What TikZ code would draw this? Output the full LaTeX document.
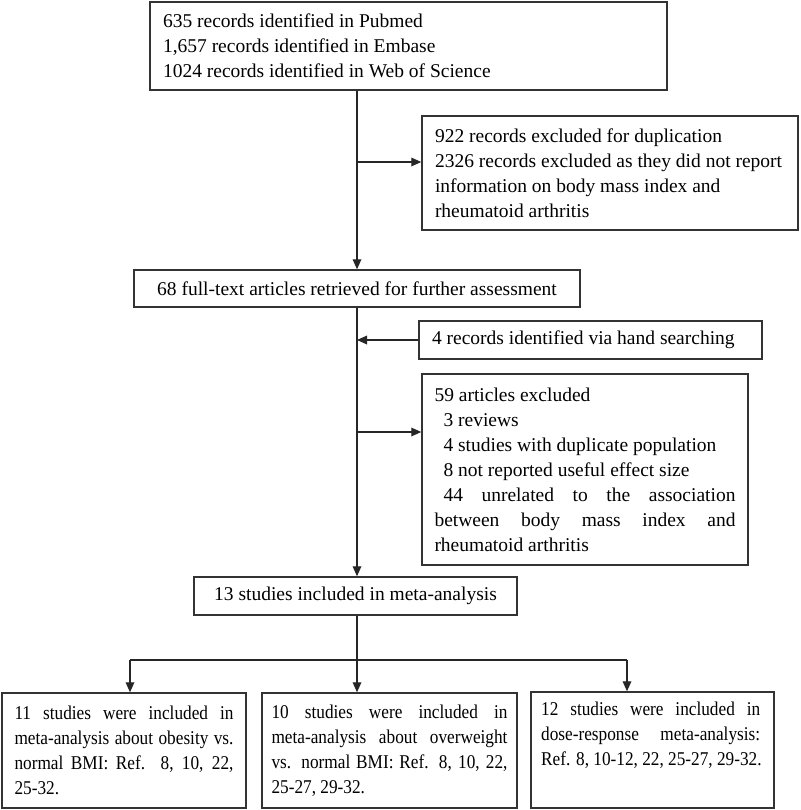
\documentclass[tikz,border=0pt]{standalone}
\usepackage{fontspec}
\setmainfont{Liberation Serif}
\newfontfamily\narrowserif[FakeStretch=0.885]{Liberation Serif}
\usetikzlibrary{arrows.meta}
\newcommand\colorFrame{black!80}
\newcommand\colorLink{black!85}
\newcommand\frameWidth{1.1pt}
\newcommand\linkWidth{0.9pt}
\newcommand\spineX{357}
\newcommand\forkY{660}
\newcommand\spreadline[2]{\makebox[#1][s]{#2}}

\begin{document}
\begin{tikzpicture}[x=0.75pt, y=-0.75pt,
	box/.style={draw=\colorFrame, line width=\frameWidth, inner sep=0pt, align=left,
		font=\fontsize{14.625}{18.75}\selectfont,
		execute at begin node={\spaceskip=0pt\xspaceskip=0pt\hyphenpenalty=10000\relax}},
	studybox/.style={box, minimum height=86.25pt, text width=164.25pt,
		font=\narrowserif\fontsize{14.625}{18.75}\selectfont},
	link/.style={draw=\colorLink, line width=\linkWidth, -{Triangle[length=7.5pt,width=6.5pt]}}]
		\useasboundingbox (0,0) rectangle (800,810);
		
		\node[box, minimum width=387.75pt, minimum height=66pt, text width=368.25pt] (records) at (408.5,46)
			{635 records identified in Pubmed\\
			1,657 records identified in Embase\\
			1024 records identified in Web of Science};
		\node[box, minimum width=282pt, minimum height=85.5pt, text width=262.5pt] (dupl) at (610,173)
			{922 records excluded for duplication\\
			2326 records excluded as they did not report\\
			information on body mass index and\\
			rheumatoid arthritis};
		\node[box, minimum width=334.5pt, minimum height=27.75pt, align=center] (fulltext) at (357,288.5)
			{68 full-text articles retrieved for further assessment};
		\node[box, minimum width=257.25pt, minimum height=28.5pt, text width=237.75pt] (hand) at (590.5,340)
			{4 records identified via hand searching};
		\node[box, minimum width=244.5pt, minimum height=143.25pt, text width=225.75pt] (excluded) at (585,469.5)
			{59 articles excluded\\
			\hspace*{6.75pt}3 reviews\\
			\hspace*{6.75pt}4 studies with duplicate population\\
			\hspace*{6.75pt}8 not reported useful effect size\\
			\hspace*{6.75pt}\spreadline{219pt}{44 unrelated to the association}\\
			\spreadline{225.75pt}{between body mass index and}\\
			rheumatoid arthritis};
		\node[box, minimum width=242.25pt, minimum height=28.5pt, align=center] (included) at (355.5,596)
			{13 studies included in meta-analysis};
		
		\node[studybox, minimum width=183pt] (obesity) at (124,750.5)
			{\spreadline{164.25pt}{11 studies were included in}\\
			\spreadline{164.25pt}{meta-analysis about obesity vs.}\\
			\spreadline{164.25pt}{normal BMI: Ref. 8, 10, 22,}\\
			25-32.};
		\node[studybox, minimum width=191.25pt, text width=177pt] (overweight) at (389.5,750.5)
			{\spreadline{177pt}{10 studies were included in}\\
			\spreadline{177pt}{meta-analysis about overweight}\\
			\spreadline{177pt}{vs. normal BMI: Ref. 8, 10, 22,}\\
			25-27, 29-32.};
		\node[studybox, minimum width=182.25pt, minimum height=87pt, text width=167pt] (dose) at (652.5,750)
			{\spreadline{164.25pt}{12 studies were included in}\\
			\spreadline{164.25pt}{dose-response meta-analysis:}\\
			Ref. 8, 10-12, 22, 25-27, 29-32.\\
			\strut};
		
		\coordinate (dupTurn) at (\spineX,162);
		\coordinate (handTurn) at (\spineX,340);
		\coordinate (exclTurn) at (\spineX,432);
		\coordinate (fork) at (\spineX,\forkY);
		
		\draw[link] (records.south -| fulltext) to (fulltext.north);
		\draw[link] (dupTurn) to (dupTurn -| dupl.west);
		\draw[link] (fulltext.south) to (fulltext.south |- included.north);
		\draw[link] (hand.west) to (handTurn);
		\draw[link] (exclTurn) to (exclTurn -| excluded.west);
		\draw[link, -] (included.south -| fork) to (fork);
		
		\foreach \name/\x in {obesity/130, overweight/357, dose/627}{
			\coordinate (f-\name) at (\x,\forkY);
			\draw[link] (f-\name) to (f-\name |- \name.north);
		}
		\draw[link, -] (f-obesity) to (f-dose);
	\end{tikzpicture}
\end{document}
